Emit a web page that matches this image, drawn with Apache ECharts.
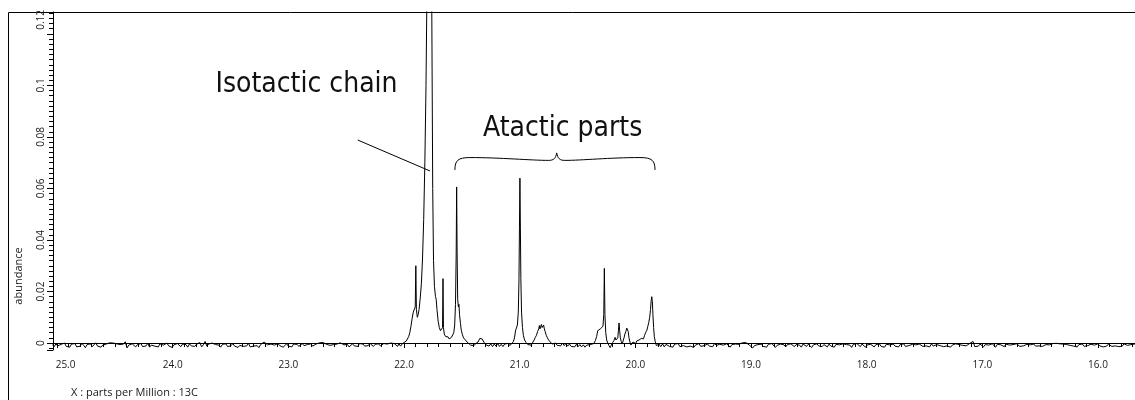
<!DOCTYPE html>
<html><head><meta charset="utf-8">
<script src="https://cdn.jsdelivr.net/npm/echarts@6/dist/echarts.min.js"></script>
<style>html,body{margin:0;padding:0;background:#fff}#c{width:1135px;height:400px}</style>
</head><body><div id="c"></div>
<script>
// ---- texts ----
const xAxisTitle = 'X : parts per Million : 13C';
const yAxisTitle = 'abundance';
const isoLabel = 'Isotactic chain';
const ataLabel = 'Atactic parts';

// ---- axis ranges (ppm, abundance) ----
const xRange = [15.68, 25.035];
const yRange = [-0.0027, 0.1285];
const xTickStep = 1;
const yTickStep = 0.02;

// ---- spectrum: uniformly sampled baseline segments ----
const baselineStep = 0.015;
const baselineLeftStart = 25.04;
const baselineLeft = [
-0.0006,-0.0014,-0.0003,-0.0011,-0.0017,-0.0005,-0.0009,0.0000,-0.0013,-0.0007,
-0.0016,-0.0004,-0.0010,-0.0002,-0.0015,-0.0008,-0.0012,-0.0001,-0.0009,-0.0018,
-0.0006,-0.0011,-0.0003,-0.0014,-0.0007,0.0001,-0.0012,-0.0005,-0.0016,-0.0008,
-0.0010,-0.0004,-0.0002,0.0001,0.0003,0.0000,0.0002,-0.0003,-0.0001,-0.0006,
-0.0012,-0.0004,0.0005,-0.0019,-0.0008,-0.0013,-0.0003,-0.0010,-0.0015,-0.0006,
-0.0009,-0.0002,-0.0014,-0.0007,-0.0011,-0.0001,-0.0016,-0.0008,-0.0004,-0.0012,
-0.0006,-0.0015,-0.0003,-0.0010,-0.0008,-0.0013,0.0000,-0.0011,-0.0005,-0.0017,
-0.0007,-0.0012,-0.0002,-0.0009,-0.0014,-0.0004,-0.0010,-0.0006,-0.0016,-0.0003,
-0.0011,-0.0008,-0.0013,-0.0005,-0.0010,0.0002,-0.0015,-0.0007,0.0006,-0.0012,
-0.0004,-0.0009,0.0000,-0.0002,-0.0006,-0.0013,-0.0008,-0.0016,-0.0005,-0.0011,
-0.0003,-0.0014,-0.0007,-0.0010,-0.0002,-0.0012,-0.0006,-0.0017,-0.0009,-0.0004,
-0.0013,-0.0006,-0.0011,-0.0001,-0.0015,-0.0008,-0.0012,-0.0005,-0.0010,-0.0018,
-0.0006,-0.0003,0.0004,0.0009,-0.0007,-0.0014,-0.0004,-0.0011,-0.0008,-0.0013,
-0.0002,-0.0010,-0.0006,-0.0016,-0.0009,-0.0003,-0.0012,-0.0007,-0.0015,-0.0004,
-0.0011,-0.0005,-0.0013,-0.0008,-0.0002,-0.0010,-0.0014,-0.0006,-0.0009,-0.0003,
-0.0012,-0.0007,-0.0004,-0.0001,0.0001,-0.0002,0.0002,-0.0001,-0.0005,-0.0003,
-0.0009,-0.0013,-0.0006,-0.0011,-0.0004,-0.0002,0.0001,-0.0001,-0.0007,-0.0012,
-0.0005,-0.0015,-0.0008,-0.0003,-0.0011,-0.0006,-0.0013,-0.0002,-0.0009,-0.0004,
-0.0012,-0.0007,-0.0010,-0.0001,-0.0008,-0.0013,-0.0005,-0.0009,-0.0003,-0.0011,
-0.0006,-0.0002,-0.0009,-0.0004,-0.0007,0.0000,-0.0005,-0.0002,0.0001
];
const baselineRightStart = 19.72;
const baselineRight = [
-0.0005,-0.0013,-0.0008,-0.0016,-0.0004,-0.0011,-0.0002,-0.0014,-0.0007,-0.0010,
-0.0003,-0.0015,-0.0009,-0.0012,-0.0005,-0.0017,-0.0008,-0.0011,-0.0002,-0.0013,
-0.0006,-0.0010,-0.0016,-0.0004,-0.0012,-0.0007,-0.0014,-0.0001,-0.0009,-0.0015,
-0.0005,-0.0011,-0.0008,-0.0013,-0.0003,-0.0010,-0.0016,-0.0006,-0.0012,-0.0004,
-0.0009,-0.0005,-0.0002,0.0001,0.0004,0.0002,-0.0003,-0.0008,-0.0014,-0.0019,
-0.0010,-0.0015,-0.0006,-0.0012,-0.0004,-0.0013,-0.0008,-0.0016,-0.0005,-0.0011,
-0.0002,0.0005,-0.0017,-0.0009,-0.0013,-0.0004,-0.0011,-0.0007,-0.0015,-0.0006,
-0.0012,-0.0003,-0.0010,-0.0014,-0.0006,-0.0011,-0.0008,-0.0016,-0.0004,-0.0009,
-0.0013,-0.0005,-0.0010,-0.0017,-0.0007,-0.0012,-0.0003,-0.0011,-0.0008,-0.0014,
-0.0006,-0.0010,-0.0015,-0.0004,-0.0012,-0.0009,-0.0016,-0.0005,-0.0011,-0.0007,
-0.0014,-0.0003,-0.0010,-0.0006,-0.0013,-0.0008,-0.0017,-0.0005,-0.0011,-0.0002,
-0.0009,-0.0014,-0.0004,0.0002,-0.0016,-0.0007,-0.0012,-0.0005,-0.0010,-0.0015,
-0.0006,-0.0011,-0.0003,-0.0013,-0.0008,-0.0016,-0.0005,-0.0010,-0.0007,-0.0014,
-0.0004,-0.0012,-0.0009,-0.0015,-0.0006,-0.0011,-0.0003,-0.0013,-0.0008,-0.0010,
-0.0016,-0.0005,-0.0012,-0.0007,-0.0014,-0.0004,-0.0010,-0.0013,-0.0006,-0.0011,
-0.0008,-0.0015,-0.0003,-0.0012,-0.0009,-0.0006,-0.0013,-0.0010,-0.0004,-0.0014,
-0.0007,-0.0011,-0.0005,-0.0016,-0.0008,-0.0012,-0.0003,-0.0010,-0.0006,-0.0013,
-0.0009,-0.0004,-0.0011,-0.0006,-0.0002,0.0001,0.0006,-0.0014,-0.0007,-0.0012,
-0.0004,-0.0010,-0.0015,-0.0006,-0.0011,-0.0008,-0.0013,-0.0003,-0.0009,-0.0016,
-0.0005,-0.0012,-0.0007,-0.0010,-0.0014,-0.0004,-0.0011,-0.0008,-0.0015,-0.0006,
-0.0012,-0.0003,-0.0009,-0.0013,-0.0006,-0.0011,-0.0016,-0.0005,-0.0010,-0.0007,
-0.0014,-0.0004,-0.0012,-0.0008,-0.0011,-0.0005,-0.0013,-0.0009,-0.0006,-0.0012,
-0.0007,-0.0004,-0.0002,-0.0005,-0.0001,0.0000,-0.0003,-0.0001,-0.0004,-0.0002,
-0.0006,-0.0003,-0.0009,-0.0005,-0.0012,-0.0008,-0.0015,-0.0006,-0.0011,-0.0004,
-0.0013,-0.0007,-0.0010,-0.0016,-0.0005,-0.0012,-0.0008,-0.0014,-0.0003,-0.0011,
-0.0006,-0.0015,-0.0009,-0.0012,-0.0004,-0.0010,-0.0013,-0.0007,-0.0011,-0.0005,
-0.0014,-0.0008,-0.0012,-0.0003,0.0003,-0.0009,-0.0015,-0.0006,-0.0011,-0.0004,
-0.0010
];

// ---- spectrum: resonance region [ppm, abundance] ----
const peakRegion = [
[22.055,-0.0013],[22.045,-0.0002],[22.03,-0.0012],[22.015,-0.0003],[22.00,0.0000],[21.98,0.0008],
[21.97,0.0015],[21.96,0.0025],[21.95,0.0040],[21.94,0.0065],[21.93,0.0095],
[21.92,0.0120],[21.91,0.0125],[21.903,0.0140],[21.898,0.0300],[21.893,0.0130],
[21.885,0.0100],[21.878,0.0110],[21.87,0.0130],[21.86,0.0175],[21.85,0.0230],
[21.84,0.0330],[21.83,0.0480],[21.82,0.0700],[21.81,0.1000],[21.80,0.1450],
[21.79,0.3000],[21.785,0.3600],[21.78,0.3000],[21.77,0.1900],[21.76,0.1300],
[21.752,0.0600],[21.745,0.0320],[21.737,0.0220],[21.728,0.0180],[21.722,0.0170],
[21.715,0.0130],[21.705,0.0085],[21.695,0.0060],[21.685,0.0048],[21.675,0.0045],
[21.667,0.0060],[21.663,0.0250],[21.659,0.0060],[21.652,0.0035],[21.64,0.0025],
[21.63,0.0018],[21.62,0.0024],[21.61,0.0016],[21.60,0.0021],[21.59,0.0022],
[21.58,0.0028],[21.57,0.0040],[21.562,0.0070],[21.555,0.0150],[21.549,0.0350],
[21.545,0.0606],[21.541,0.0350],[21.536,0.0170],[21.530,0.0140],[21.525,0.0150],
[21.520,0.0110],[21.512,0.0075],[21.505,0.0050],[21.495,0.0032],[21.485,0.0020],
[21.47,0.0012],[21.455,0.0004],[21.44,0.0004],[21.425,-0.0008],[21.41,-0.0002],[21.395,-0.0010],
[21.38,-0.0002],[21.36,0.0004],[21.345,0.0018],[21.335,0.0024],[21.325,0.0016],
[21.31,0.0004],[21.295,-0.0006],[21.28,-0.0002],[21.265,-0.0012],[21.25,-0.0003],[21.235,-0.0014],
[21.22,-0.0004],[21.205,-0.0012],[21.19,-0.0002],[21.175,-0.0013],[21.16,-0.0005],[21.145,-0.0014],
[21.13,-0.0004],[21.115,-0.0011],[21.10,-0.0001],[21.085,-0.0010],[21.07,-0.0003],
[21.055,0.0005],[21.045,0.0020],
[21.035,0.0050],[21.028,0.0058],[21.020,0.0070],[21.012,0.0120],[21.006,0.0250],
[21.002,0.0450],[20.998,0.0640],[20.994,0.0450],[20.990,0.0250],[20.984,0.0120],
[20.976,0.0060],[20.968,0.0030],[20.958,0.0012],[20.945,0.0002],[20.93,-0.0006],
[20.915,0.0001],[20.90,-0.0008],[20.885,0.0004],[20.875,0.0012],[20.865,0.0022],
[20.855,0.0030],[20.845,0.0045],[20.835,0.0055],[20.83,0.0068],[20.825,0.0055],
[20.818,0.0060],[20.812,0.0072],[20.806,0.0060],[20.80,0.0065],[20.793,0.0070],
[20.787,0.0055],[20.78,0.0045],[20.77,0.0030],[20.76,0.0020],[20.75,0.0012],
[20.735,0.0004],[20.72,-0.0004],[20.705,-0.0010],[20.69,0.0000],[20.675,-0.0009],[20.66,-0.0002],
[20.645,-0.0011],[20.63,0.0000],[20.615,-0.0010],[20.60,-0.0002],[20.585,-0.0012],[20.57,-0.0004],
[20.555,-0.0013],[20.54,-0.0006],[20.525,-0.0015],[20.51,-0.0005],[20.495,-0.0014],[20.48,-0.0006],
[20.465,-0.0015],[20.45,-0.0007],[20.435,-0.0016],[20.42,-0.0008],[20.405,-0.0015],[20.39,-0.0006],
[20.375,-0.0010],[20.36,-0.0002],
[20.345,0.0010],[20.335,0.0025],[20.325,0.0048],[20.318,0.0052],[20.31,0.0042],
[20.303,0.0055],[20.296,0.0050],[20.288,0.0060],[20.28,0.0065],[20.273,0.0110],
[20.268,0.0290],[20.263,0.0110],[20.256,0.0040],[20.248,0.0012],[20.238,0.0000],
[20.228,-0.0010],[20.218,-0.0018],[20.208,-0.0008],[20.196,0.0002],[20.185,0.0010],
[20.175,0.0022],[20.168,0.0012],[20.16,0.0006],[20.152,0.0020],[20.146,0.0050],
[20.141,0.0078],[20.136,0.0050],[20.13,0.0020],[20.122,0.0006],[20.114,-0.0004],
[20.106,0.0008],[20.098,0.0020],[20.09,0.0035],[20.082,0.0045],[20.074,0.0058],
[20.068,0.0064],[20.062,0.0045],[20.055,0.0020],[20.047,0.0004],[20.038,-0.0008],
[20.03,-0.0002],[20.02,0.0004],[20.012,0.0010],[20.004,0.0004],[19.996,-0.0002],
[19.988,0.0008],[19.978,0.0002],[19.968,0.0012],[19.958,0.0006],[19.948,0.0018],
[19.938,0.0025],[19.93,0.0016],[19.92,0.0030],[19.91,0.0042],[19.90,0.0050],
[19.892,0.0065],[19.884,0.0080],[19.876,0.0100],[19.869,0.0130],[19.863,0.0165],
[19.858,0.0180],[19.853,0.0160],[19.848,0.0110],[19.842,0.0060],[19.836,0.0025],
[19.828,0.0005],[19.818,-0.0010],[19.808,-0.0016],[19.795,-0.0004],[19.78,-0.0014],
[19.765,-0.0003],[19.75,-0.0015],[19.735,-0.0005]
];

// ---- annotation anchors in data units (ppm, abundance) ----
const isoTextAnchor = [23.63, 0.1004];
const ataTextAnchor = [21.318, 0.0830];
const pointerFrom = [22.40, 0.0788];
const pointerTo = [21.776, 0.0668];
const braceLeft = 21.56, braceMid = 20.68, braceRight = 19.83;
const braceEndY = 0.0672, braceArmY = 0.0720, braceDipY = 0.0709, braceCuspY = 0.0738;

// ---- build series ----
const spectrum = [];
baselineLeft.forEach((v, i) => spectrum.push([+(baselineLeftStart - i * baselineStep).toFixed(3), v]));
peakRegion.forEach(p => spectrum.push(p));
baselineRight.forEach((v, i) => spectrum.push([+(baselineRightStart - i * baselineStep).toFixed(3), v]));

const labelFont = 'Open Sans';
const annFont = "'DejaVu Sans Condensed','DejaVu Sans',sans-serif";
const chart = echarts.init(document.getElementById('c'), null, {renderer: 'canvas'});
const isNear = (a, b) => Math.abs(a - b) < 1e-9;

chart.setOption({
  animation: false,
  backgroundColor: '#fff',
  grid: {left: 53, right: 0, top: 12, bottom: 50, containLabel: false},
  xAxis: {
    type: 'value', inverse: true, min: xRange[0], max: xRange[1],
    minInterval: xTickStep, maxInterval: xTickStep,
    axisLine: {show: true, lineStyle: {color: '#000', width: 1}},
    axisTick: {show: true, length: 5, lineStyle: {color: '#000'}},
    minorTick: {show: true, splitNumber: 10, length: 4, lineStyle: {color: '#000'}},
    splitLine: {show: false}, minorSplitLine: {show: false},
    axisLabel: {
      show: true, margin: 10, color: '#1a1a1a', fontFamily: labelFont, fontSize: 10,
      showMinLabel: false, showMaxLabel: false,
      formatter: v => {
        if (!isNear(v, Math.round(v))) return '';
        return isNear(v, 25) ? '{first|' + v.toFixed(1) + '}' : v.toFixed(1);
      },
      rich: {first: {padding: [0, 0, 0, 17], color: '#1a1a1a', fontFamily: labelFont, fontSize: 10}}
    }
  },
  yAxis: {
    type: 'value', min: yRange[0], max: yRange[1],
    minInterval: yTickStep, maxInterval: yTickStep,
    axisLine: {show: true, lineStyle: {color: '#000', width: 1}},
    axisTick: {show: true, length: 6, lineStyle: {color: '#000'}},
    minorTick: {show: true, splitNumber: 10, length: 4, lineStyle: {color: '#000'}},
    splitLine: {show: false}, minorSplitLine: {show: false},
    axisLabel: {
      show: true, rotate: 90, margin: 7, color: '#1a1a1a', fontFamily: labelFont, fontSize: 10,
      showMinLabel: false, showMaxLabel: false,
      formatter: v => {
        const r = Math.round(v / yTickStep);
        if (!isNear(v, r * yTickStep)) return '';
        const s = String(+v.toFixed(4));
        return isNear(v, 0.12) ? '{top|' + s + '}' : s;
      },
      rich: {top: {padding: [0, 0, 0, 28], color: '#1a1a1a', fontFamily: labelFont, fontSize: 10}}
    }
  },
  series: [{
    type: 'line', data: spectrum, showSymbol: false, symbol: 'none', sampling: null,
    clip: true, lineStyle: {color: '#000', width: 1}, silent: true
  }]
});

const px = p => chart.convertToPixel({gridIndex: 0}, p);
const isoP = px(isoTextAnchor), ataP = px(ataTextAnchor);
const pf = px(pointerFrom), pt = px(pointerTo);
const bl = px([braceLeft, braceEndY])[0], bm = px([braceMid, braceEndY])[0], br = px([braceRight, braceEndY])[0];
const yEnd = px([braceMid, braceEndY])[1], yArm = px([braceMid, braceArmY])[1];
const yDip = px([braceMid, braceDipY])[1], yCusp = px([braceMid, braceCuspY])[1];
const braceSegs = [
  [bl, yEnd, bl, yArm + 3, bl + 3, yArm, bl + 15, yArm],
  [bl + 15, yArm, bl + 45, yArm, bm - 25, yDip, bm - 8, yDip],
  [bm - 8, yDip, bm - 3, yDip, bm - 1, yDip - 2, bm, yCusp],
  [bm, yCusp, bm + 1, yDip - 2, bm + 3, yDip, bm + 8, yDip],
  [bm + 8, yDip, bm + 25, yDip, br - 45, yArm, br - 15, yArm],
  [br - 15, yArm, br - 3, yArm, br, yArm + 3, br, yEnd]
];
const braceGraphics = braceSegs.map(s => ({
  type: 'bezierCurve', silent: true,
  shape: {x1: s[0], y1: s[1], cpx1: s[2], cpy1: s[3], cpx2: s[4], cpy2: s[5], x2: s[6], y2: s[7]},
  style: {fill: null, stroke: '#000', lineWidth: 1}
}));

chart.setOption({
  graphic: [
    {type: 'rect', silent: true, shape: {x: 8.5, y: 12.5, width: 1200, height: 500},
     style: {fill: null, stroke: '#000', lineWidth: 1}},
    {type: 'text', silent: true, x: 19, y: 276, rotation: Math.PI / 2,
     style: {text: yAxisTitle, fontFamily: labelFont, fontSize: 11, fill: '#1a1a1a', align: 'center', verticalAlign: 'middle'}},
    {type: 'text', silent: true, x: 71, y: 393,
     style: {text: xAxisTitle, fontFamily: labelFont, fontSize: 11, fill: '#1a1a1a', align: 'left', verticalAlign: 'middle'}},
    {type: 'text', silent: true, x: isoP[0], y: isoP[1],
     style: {text: isoLabel, fontFamily: annFont, fontSize: 28, fill: '#111', align: 'left', verticalAlign: 'middle'}},
    {type: 'text', silent: true, x: ataP[0], y: ataP[1],
     style: {text: ataLabel, fontFamily: annFont, fontSize: 28, fill: '#111', align: 'left', verticalAlign: 'middle'}},
    {type: 'line', silent: true, shape: {x1: pf[0], y1: pf[1], x2: pt[0], y2: pt[1]},
     style: {stroke: '#000', lineWidth: 1}}
  ].concat(braceGraphics)
});
</script></body></html>
